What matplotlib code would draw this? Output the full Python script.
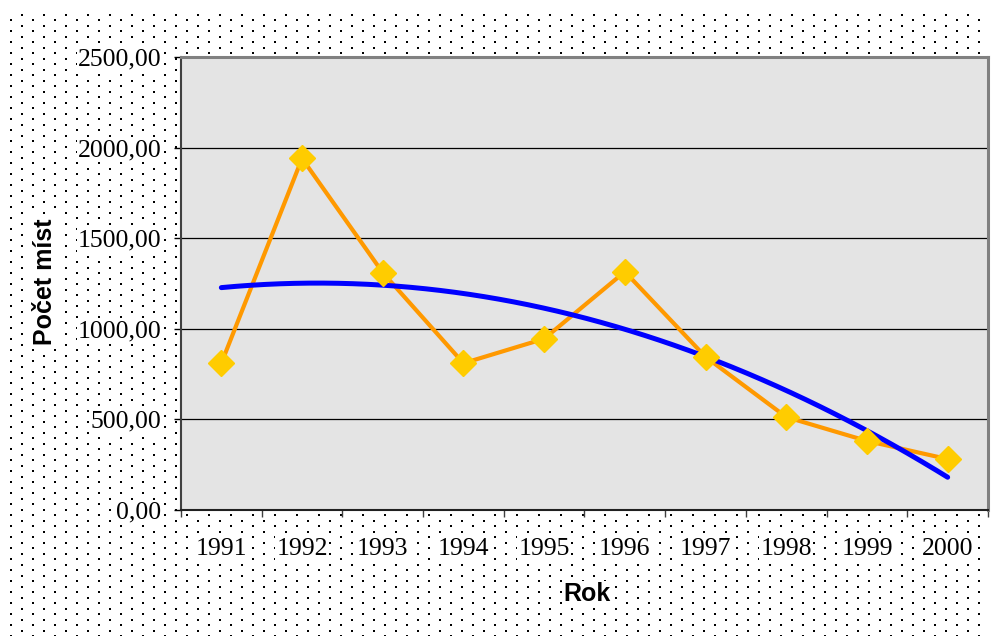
import matplotlib
matplotlib.use("Agg")
import matplotlib.pyplot as plt
import numpy as np
from matplotlib.ticker import FixedLocator, FuncFormatter

years = ["1991", "1992", "1993", "1994", "1995", "1996", "1997", "1998", "1999", "2000"]
pocet_mist = [810, 1940, 1310, 810, 945, 1315, 845, 513, 381, 281]
y_ticks = [0, 500, 1000, 1500, 2000, 2500]

W, H, DPI = 991, 636, 100
fig = plt.figure(figsize=(W / DPI, H / DPI), dpi=DPI)

# dotted background pattern (like the excel "dotted" fill)
bg = np.ones((H, W, 3))
for yy in np.arange(14, H, 11):
    for xx in np.arange(21, W - 2, 22):
        bg[int(yy):int(yy) + 2, int(xx):int(xx) + 2] = 0
for yy in np.arange(19.5, H, 11):
    for xx in np.arange(10, W - 2, 22):
        bg[int(yy):int(yy) + 2, int(xx):int(xx) + 2] = 0
fig.figimage(bg, xo=0, yo=0, origin="upper", zorder=-10)

ax = fig.add_axes([181 / W, 1 - 510 / H, (988 - 181) / W, (510 - 57) / H])
ax.set_zorder(1)
ax.set_facecolor("#e4e4e4")

x = np.arange(1, len(years) + 1)
y = np.array(pocet_mist, dtype=float)

# polynomial trend (2nd order), like the excel trendline
coef = np.polyfit(x, y, 2)
xs = np.linspace(1, len(years), 200)
ax.plot(xs, np.polyval(coef, xs), color="#0000ff", lw=3.6, solid_capstyle="round", zorder=4)

ax.plot(x, y, color="#ff9900", lw=3, zorder=3)
ax.plot(x, y, ls="none", marker="D", ms=13, mfc="#ffcc00", mec="#ffcc00", zorder=5)

ax.set_xlim(0.5, len(years) + 0.5)
ax.set_ylim(0, 2500)
ax.yaxis.set_major_locator(FixedLocator(y_ticks))
ax.yaxis.set_major_formatter(FuncFormatter(lambda v, p: ("%.2f" % v).replace(".", ",")))
ax.grid(axis="y", color="black", lw=0.9)
ax.set_axisbelow(True)

ax.xaxis.set_major_locator(FixedLocator(np.arange(0.5, len(years) + 1, 1)))
ax.xaxis.set_minor_locator(FixedLocator(x))
ax.set_xticklabels([], minor=False)
ax.set_xticklabels(years, minor=True)
ax.tick_params(axis="x", which="major", direction="out", length=5, width=1, colors="#404040")
ax.tick_params(axis="x", which="minor", length=0, pad=20, labelsize=18.5)
ax.tick_params(axis="y", direction="out", length=5, width=1, pad=9, labelsize=18.5)
for lab in ax.get_xticklabels(minor=True) + ax.get_yticklabels():
    lab.set_fontfamily("Liberation Serif")
    lab.set_color("black")
    lab.set_bbox(dict(facecolor="white", edgecolor="none", pad=1))

ax.spines["left"].set_color("#404040")
ax.spines["left"].set_linewidth(1.5)
ax.spines["bottom"].set_color("#202020")
ax.spines["bottom"].set_linewidth(1.5)
ax.spines["top"].set_color("#808080")
ax.spines["top"].set_linewidth(2.2)
ax.spines["right"].set_color("#808080")
ax.spines["right"].set_linewidth(2.2)

fig.text(45 / W, 1 - 282 / H, "Počet míst", rotation=90, ha="center", va="center",
         fontsize=18, fontweight="bold", family="Liberation Sans",
         bbox=dict(facecolor="white", edgecolor="none", pad=1))
fig.text(587 / W, 1 - 594 / H, "Rok", ha="center", va="center",
         fontsize=18, fontweight="bold", family="Liberation Sans",
         bbox=dict(facecolor="white", edgecolor="none", pad=1))

fig.savefig("out.png", dpi=DPI)
